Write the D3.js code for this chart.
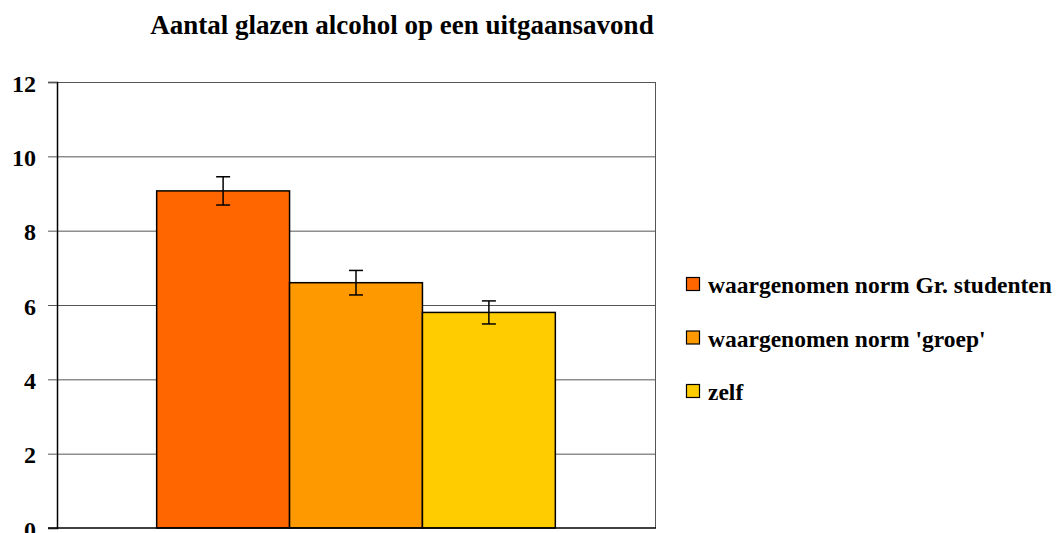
<!DOCTYPE html>
<html lang="en">
<head>
<meta charset="UTF-8">
<title>Aantal glazen alcohol</title>
<script src="https://d3js.org/d3.v7.min.js"></script>
<style>
  body { margin: 0; background: #fff; }
  text { font-family: "Liberation Serif", "Times New Roman", serif; font-weight: bold; fill: #000; }
</style>
</head>
<body>
<svg id="chart" width="1060" height="533"></svg>
<script>
  const series = ["waargenomen norm Gr. studenten", "waargenomen norm 'groep'", "zelf"];
  const values = [9.07, 6.6, 5.8];
  const errors = [0.38, 0.33, 0.31];
  const colors = ["#FF6600", "#FF9900", "#FFCC00"];
  const yTicks = [0, 2, 4, 6, 8, 10, 12];

  const svg = d3.select("#chart");
  const plotLeft = 57, plotRight = 655, plotTop = 82, plotBottom = 528;

  const y = d3.scaleLinear().domain([0, 12]).range([plotBottom, plotTop]);
  // one category, three series, gap width 150%
  const x = d3.scaleBand().domain(series).range([plotLeft, plotRight])
      .paddingInner(0).paddingOuter(0.75);

  svg.append("text")
      .attr("x", 402).attr("y", 34)
      .attr("text-anchor", "middle")
      .style("font-size", "27px")
      .text("Aantal glazen alcohol op een uitgaansavond");

  // gridlines
  svg.append("g").selectAll("line")
    .data(yTicks.slice(1))
    .enter().append("line")
      .attr("x1", plotLeft).attr("x2", plotRight)
      .attr("y1", d => y(d) + 0.5).attr("y2", d => y(d) + 0.5)
      .attr("stroke", "#555").attr("stroke-width", 1);

  // right border
  svg.append("line")
      .attr("x1", plotRight + 0.5).attr("x2", plotRight + 0.5)
      .attr("y1", plotTop).attr("y2", plotBottom)
      .attr("stroke", "#555");

  // bars
  svg.append("g").selectAll("rect")
    .data(series)
    .enter().append("rect")
      .attr("x", d => x(d))
      .attr("y", (d, i) => y(values[i]))
      .attr("width", x.bandwidth())
      .attr("height", (d, i) => plotBottom - y(values[i]))
      .attr("fill", (d, i) => colors[i])
      .attr("stroke", "#000").attr("stroke-width", 1.5);

  // error bars
  const eb = svg.append("g").attr("stroke", "#000").attr("stroke-width", 1.5);
  series.forEach((s, i) => {
    const cx = x(s) + x.bandwidth() / 2;
    const hi = y(values[i] + errors[i]), lo = y(values[i] - errors[i]);
    eb.append("line").attr("x1", cx).attr("x2", cx).attr("y1", hi).attr("y2", lo);
    eb.append("line").attr("x1", cx - 7).attr("x2", cx + 7).attr("y1", hi).attr("y2", hi);
    eb.append("line").attr("x1", cx - 7).attr("x2", cx + 7).attr("y1", lo).attr("y2", lo);
  });

  // y axis
  const yAxis = svg.append("g")
      .attr("transform", `translate(${plotLeft},0)`)
      .call(d3.axisLeft(y).tickValues(yTicks).tickSize(9).tickPadding(12));
  yAxis.select(".domain").attr("stroke", "#000").attr("stroke-width", 1.5);
  yAxis.selectAll(".tick line").attr("stroke", "#555");
  yAxis.selectAll(".tick text")
      .style("font-size", "24px")
      .attr("dy", "0.38em")
      .attr("fill", "#000");

  // x axis baseline
  svg.append("line")
      .attr("x1", plotLeft - 9).attr("x2", plotRight + 1)
      .attr("y1", plotBottom).attr("y2", plotBottom)
      .attr("stroke", "#000").attr("stroke-width", 1.5);

  // legend
  const legend = svg.append("g").selectAll("g")
    .data(series)
    .enter().append("g")
      .attr("transform", (d, i) => `translate(686,${284 + i * 53.5})`);
  legend.append("rect")
      .attr("x", 0.5).attr("y", -6.5)
      .attr("width", 13).attr("height", 13)
      .attr("fill", (d, i) => colors[i])
      .attr("stroke", "#000").attr("stroke-width", 1.2);
  legend.append("text")
      .attr("x", 22).attr("y", 9)
      .style("font-size", "23.5px")
      .text(d => d);
</script>
</body>
</html>
